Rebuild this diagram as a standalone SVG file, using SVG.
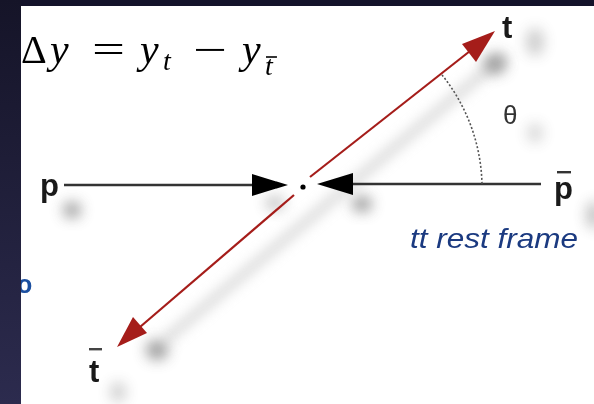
<svg xmlns="http://www.w3.org/2000/svg" width="594" height="404" viewBox="0 0 594 404">
<defs>
<linearGradient id="side" x1="0" y1="0" x2="0" y2="1">
<stop offset="0" stop-color="#151428"/>
<stop offset="1" stop-color="#2c2b4e"/>
</linearGradient>
<clipPath id="clipw"><rect x="21" y="6" width="573" height="398"/></clipPath>
<filter id="blur" x="-80%" y="-80%" width="260%" height="260%"><feGaussianBlur stdDeviation="7"/></filter>
<filter id="blur2" x="-20%" y="-50%" width="140%" height="200%"><feGaussianBlur stdDeviation="6"/></filter>
<style>
.lbl{font-family:"Liberation Sans",Arial,sans-serif;font-weight:bold;fill:#1a1a1a;font-size:31px}
.math{font-family:"Liberation Serif","DejaVu Serif",serif;font-style:italic;fill:#000;font-size:42px}
.op{font-family:"Liberation Serif","DejaVu Serif",serif;fill:#000;font-size:40px}
.red{stroke:#a51d1a;stroke-width:2.2;fill:none}
.blk{stroke:#333;stroke-width:2.4;fill:none}
.sh{fill:#555;filter:url(#blur)}
</style>
</defs>
<rect width="594" height="404" fill="#ffffff"/>
<rect x="0" y="0" width="594" height="6" fill="#14132a"/>
<rect x="0" y="0" width="21" height="404" fill="url(#side)"/>

<g id="shadows" opacity="0.6">
<line x1="70" y1="202" x2="290" y2="202" stroke="#ccc" stroke-width="12" filter="url(#blur2)"/>
<line x1="330" y1="202" x2="545" y2="202" stroke="#ccc" stroke-width="12" filter="url(#blur2)"/>
<line x1="505" y1="55" x2="165" y2="340" stroke="#ccc" stroke-width="12" filter="url(#blur2)"/>
<ellipse class="sh" cx="495" cy="64" rx="11" ry="10"/>
<ellipse class="sh" cx="535" cy="42" rx="9" ry="14" opacity="0.5"/>
<ellipse class="sh" cx="157" cy="350" rx="11" ry="10"/>
<ellipse class="sh" cx="118" cy="392" rx="8" ry="10" opacity="0.5"/>
<ellipse class="sh" cx="72" cy="210" rx="9" ry="8"/>
<ellipse class="sh" cx="362" cy="204" rx="10" ry="8"/>
<ellipse class="sh" cx="275" cy="203" rx="10" ry="7" opacity="0.6"/>
<ellipse class="sh" cx="535" cy="133" rx="8" ry="10" opacity="0.4"/>
<ellipse class="sh" cx="594" cy="215" rx="8" ry="14" opacity="0.6"/>
</g>

<g id="connectors">
<line class="blk" x1="64" y1="185" x2="256" y2="185"/>
<polygon points="288,185 252,174 252,196" fill="#000"/>
<line class="blk" x1="350" y1="184" x2="541" y2="184"/>
<polygon points="317,184 353,173 353,195" fill="#000"/>
<line class="red" x1="310" y1="177" x2="470" y2="51"/>
<polygon points="495,31 476,62 462,44" fill="#a51d1a"/>
<line class="red" x1="294" y1="195" x2="140" y2="327"/>
<polygon points="117,347 133,317 147,333" fill="#a51d1a"/>
<path d="M442,75 A180,180 0 0 1 482,184" stroke="#555" stroke-width="1.6" stroke-dasharray="2,2" fill="none"/>
<circle cx="303" cy="187" r="2.6" fill="#000"/>
</g>

<g id="formula">
<text class="op" x="21" y="63" font-size="42">Δ</text>
<text class="math"><tspan x="50" y="63">y</tspan><tspan x="140">y</tspan><tspan x="163" y="70" font-size="28">t</tspan><tspan x="242" y="63">y</tspan><tspan x="265" y="75" font-size="28">t</tspan></text>
<text class="op" x="92" y="63" textLength="33" lengthAdjust="spacingAndGlyphs">=</text>
<text class="op" x="193" y="63" textLength="34" lengthAdjust="spacingAndGlyphs">−</text>
<line x1="266" y1="57" x2="277" y2="57" stroke="#000" stroke-width="1.6"/>
</g>

<g id="node-p"><text class="lbl" x="40" y="196">p</text></g>
<g id="node-pbar"><rect x="557" y="171" width="14" height="2.4" fill="#333"/><text class="lbl" x="554" y="199">p</text></g>
<g id="node-t"><text class="lbl" x="502" y="38">t</text></g>
<g id="node-tbar"><rect x="89" y="348" width="13" height="2.4" fill="#444"/><text class="lbl" x="89" y="382">t</text></g>
<g id="theta"><text x="503" y="124" font-family="Liberation Sans,Arial,sans-serif" font-size="26" fill="#333">θ</text></g>
<g id="frame-label"><text x="410" y="248" font-family="Liberation Sans,Arial,sans-serif" font-style="italic" font-size="28" fill="#1b3a80" textLength="168" lengthAdjust="spacingAndGlyphs">tt rest frame</text></g>
<g id="edge-letter" clip-path="url(#clipw)"><text x="17" y="293" font-family="Liberation Sans,Arial,sans-serif" font-weight="bold" font-size="25" fill="#1b4fa0">o</text></g>
</svg>
